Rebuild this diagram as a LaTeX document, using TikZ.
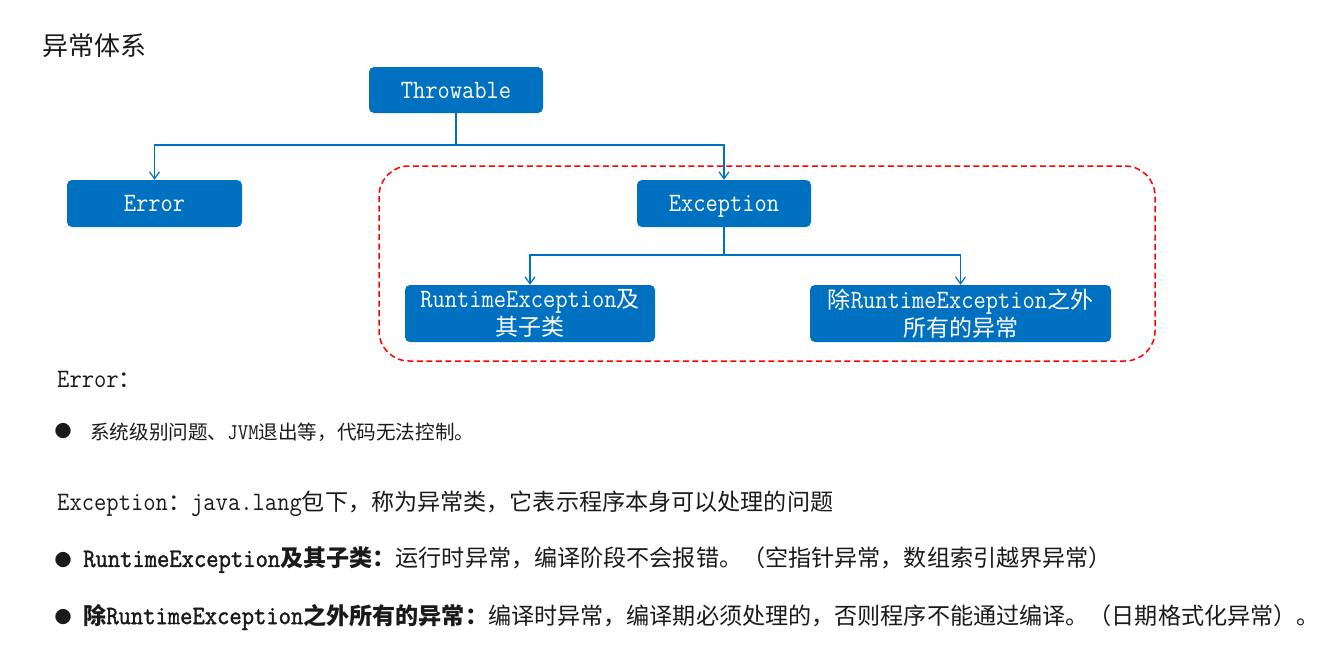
\documentclass[tikz,border=0pt]{standalone}
\usepackage{fontspec}
\setmainfont{Noto Sans CJK SC}
\setmonofont{Latin Modern Mono}[Scale=1.15, FakeStretch=0.9]
\newfontfamily\ttb{Latin Modern Mono}[Scale=1.15, FakeStretch=0.9, FakeBold=1.5]
\usetikzlibrary{arrows.meta}
\definecolor{boxblue}{HTML}{0070C0}
\definecolor{dashred}{HTML}{FF0000}
\definecolor{txt}{HTML}{1A1A1A}
\newcommand{\lt}[1]{\texttt{#1}}
\newcommand{\lb}[1]{{\ttb #1}}
\begin{document}
\begin{tikzpicture}[x=1pt,y=-1pt,
  cls/.style={fill=boxblue, rounded corners=5pt, text=white, inner sep=0pt,
    align=center, font=\fontsize{23}{28}\selectfont},
  oneline/.style={text height=16pt, text depth=0pt},
  conn/.style={draw=boxblue, line width=1.3pt, -{Straight Barb[length=7pt,width=10pt,line width=1.2pt]}},
  line/.style={draw=boxblue, line width=1.3pt},
  body/.style={anchor=west, inner sep=0pt, text=txt, font=\fontsize{23.1}{28}\selectfont},
  small/.style={anchor=west, inner sep=0pt, text=txt, font=\fontsize{19.6}{24}\selectfont},
  bul/.style={inner sep=0pt, text=txt, font=\fontsize{17}{20}\selectfont}]
\useasboundingbox (0,0) rectangle (1328,645);
\fill[white] (0,0) rectangle (1328,645);

\node[anchor=west, inner sep=0pt, text=txt, font=\fontsize{26}{30}\selectfont] (title) at (42,46) {异常体系};

\draw[dashred, line width=1.5pt, dash pattern=on 6pt off 3.5pt, rounded corners=30pt] (379,166) rectangle (1155,361);

\node[cls, oneline, minimum width=174pt, minimum height=46pt] (thr) at (456,90) {\lt{Throwable}};
\node[cls, oneline, minimum width=175pt, minimum height=47pt] (err) at (154.5,203.5) {\lt{Error}};
\node[cls, oneline, minimum width=174pt, minimum height=47pt] (exc) at (724,203.5) {\lt{Exception}};
\node[cls, minimum width=250pt, minimum height=57pt] (rt) at (530,313.5) {\lt{RuntimeException}及\\其子类};
\node[cls, minimum width=301pt, minimum height=57pt] (nrt) at (960.5,313.5) {除\lt{RuntimeException}之外\\所有的异常};

\coordinate (j1) at (456,145);
\coordinate (j2) at (724,255);
\draw[line] (thr.south) -- (j1);
\draw[conn] (j1) -| (err.north);
\draw[conn] (j1) -| (exc.north);
\draw[line] (exc.south) -- (j2);
\draw[conn] (j2) -| (rt.north);
\draw[conn] (j2) -| (nrt.north);

\node[body] (errl) at (57,379) {\lt{Error}：};
\node[bul] (b1) at (63,431) {●};
\node[small] (t1) at (90,432) {系统级别问题、\lt{JVM}退出等，代码无法控制。};

\node[body] (excl) at (57,504) {\lt{Exception}：\lt{java.lang}包下，称为异常类，它表示程序本身可以处理的问题};
\node[bul] (b2) at (63,560) {●};
\node[body] (t2) at (83,560) {{\bfseries\lb{RuntimeException}及其子类：}运行时异常，编译阶段不会报错。（空指针异常，数组索引越界异常）};
\node[bul] (b3) at (63,617) {●};
\node[body] (t3) at (83,617) {{\bfseries 除\lb{RuntimeException}之外所有的异常：}编译时异常，编译期必须处理的，否则程序不能通过编译。（日期格式化异常）。};
\end{tikzpicture}
\end{document}
